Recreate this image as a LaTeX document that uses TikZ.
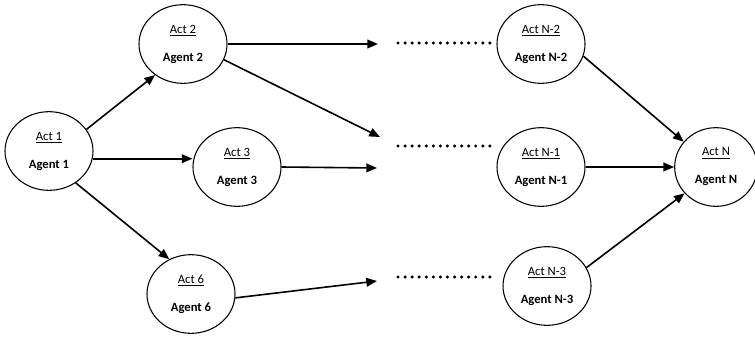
\documentclass[tikz,border=0pt]{standalone}
\usepackage{fontspec}
\setmainfont{Carlito}
\usetikzlibrary{shapes.geometric,arrows.meta}
\tikzset{
  agent/.style={ellipse, draw, line width=0.8pt, minimum width=66pt, minimum height=59pt, inner sep=0pt, align=center, font=\fontsize{9.5}{21}\selectfont},
  arr/.style={line width=1.2pt, -{Triangle[length=8pt,width=6.5pt]}},
  dotline/.style={line width=2.6pt, line cap=round, dash pattern=on 0pt off 5.3pt}
}
\newcommand{\agtxt}[2]{\underline{#1}\\\textbf{#2}}
\begin{document}
\begin{tikzpicture}[x=0.75pt,y=-0.75pt]
\useasboundingbox (0,0) rectangle (755,336);
\node[agent] (a1) at (49,151) {\agtxt{Act 1}{Agent 1}};
\node[agent] (a2) at (183,44) {\agtxt{Act 2}{Agent 2}};
\node[agent] (a3) at (237,167) {\agtxt{Act 3}{Agent 3}};
\node[agent] (a6) at (191,294) {\agtxt{Act 6}{Agent 6}};
\node[agent] (n2) at (541,44) {\agtxt{Act N-2}{Agent N-2}};
\node[agent] (n1) at (541,167) {\agtxt{Act N-1}{Agent N-1}};
\node[agent] (n3) at (547,286) {\agtxt{Act N-3}{Agent N-3}};
\node[agent, minimum width=62pt] (nN) at (716,167) {\agtxt{Act N}{Agent N}};

\coordinate (c1) at (378,44);
\coordinate (c2) at (380,137);
\coordinate (c3) at (377,168);
\coordinate (c6) at (377,281);
\coordinate (d1s) at (398,43); \coordinate (d1e) at (490,43);
\coordinate (d2s) at (398,146); \coordinate (d2e) at (490,146);
\coordinate (d3s) at (398,277); \coordinate (d3e) at (490,277);

\draw[arr] (a1.30) -- (a2.228);
\draw[arr] (a1.-10) -- (a1.-10 -| a3.west);
\draw[arr] (a1.-50) -- (a6.122);
\draw[arr] (a2.east) -- (c1);
\draw[arr] (a2.-21) -- (c2);
\draw[arr] (a3.east) -- (c3);
\draw[arr] (a6.-5) -- (c6);
\draw[arr] (n2.-16) -- (nN.142);
\draw[arr] (n1.east) -- (nN.west);
\draw[arr] (n3.25) -- (nN.220);

\draw[dotline] (d1s) -- (d1e);
\draw[dotline] (d2s) -- (d2e);
\draw[dotline] (d3s) -- (d3e);
\end{tikzpicture}
\end{document}
